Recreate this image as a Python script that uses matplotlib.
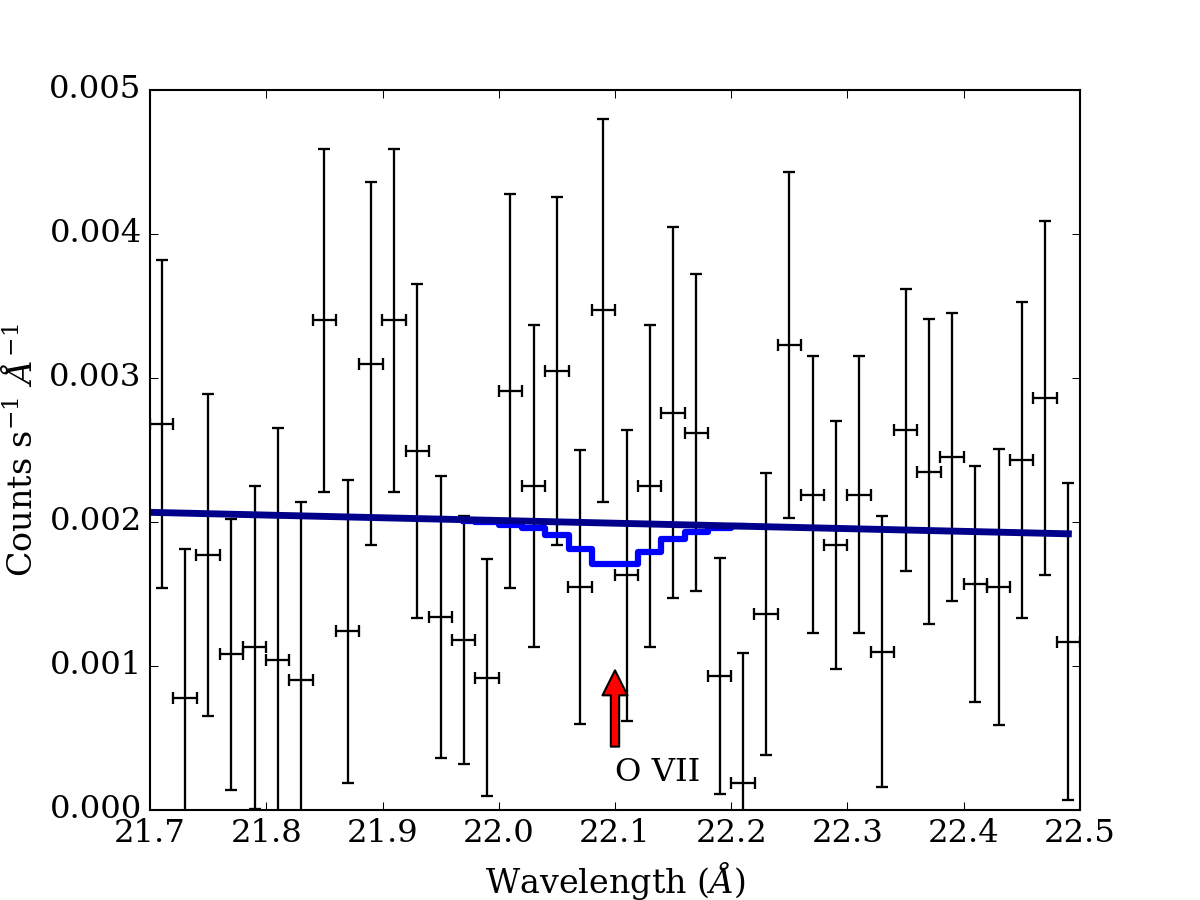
import matplotlib
matplotlib.use("Agg")
import matplotlib.pyplot as plt
from matplotlib.ticker import FormatStrFormatter, MultipleLocator

plt.style.use("classic")
plt.rcParams["font.family"] = ["DejaVu Serif"]
plt.rcParams["mathtext.fontset"] = "dejavuserif"
plt.rcParams["font.size"] = 15.5

# binned spectrum
wave = [21.71, 21.73, 21.75, 21.77, 21.79, 21.81, 21.83, 21.85, 21.87, 21.89,
        21.91, 21.93, 21.95, 21.97, 21.99, 22.01, 22.03, 22.05, 22.07, 22.09,
        22.11, 22.13, 22.15, 22.17, 22.19, 22.21, 22.23, 22.25, 22.27, 22.29,
        22.31, 22.33, 22.35, 22.37, 22.39, 22.41, 22.43, 22.45, 22.47, 22.49]
counts = [0.00268, 0.00078, 0.00177, 0.00108, 0.00113, 0.00104, 0.00090, 0.00340, 0.00124, 0.00310,
          0.00340, 0.00249, 0.00134, 0.00118, 0.00092, 0.00291, 0.00225, 0.00305, 0.00155, 0.00347,
          0.00163, 0.00225, 0.00276, 0.00262, 0.00093, 0.00019, 0.00136, 0.00323, 0.00219, 0.00184,
          0.00219, 0.00110, 0.00264, 0.00235, 0.00245, 0.00157, 0.00155, 0.00243, 0.00286, 0.00117]
count_err = [0.00114, 0.00103, 0.00112, 0.00094, 0.00112, 0.00161, 0.00124, 0.00119, 0.00105, 0.00126,
             0.00119, 0.00116, 0.00098, 0.00086, 0.00082, 0.00137, 0.00112, 0.00121, 0.00095, 0.00133,
             0.00101, 0.00112, 0.00129, 0.00110, 0.00082, 0.00090, 0.00098, 0.00120, 0.00096, 0.00086,
             0.00096, 0.00094, 0.00098, 0.00106, 0.00100, 0.00082, 0.00096, 0.00110, 0.00123, 0.00110]
bin_halfwidth = 0.01

# continuum model (straight line)
cont_wave = [21.69, 22.49]
cont_flux = [0.002069, 0.001918]

# absorption line model around O VII
line_wave = [21.97, 21.99, 22.01, 22.03, 22.05, 22.07, 22.09, 22.11, 22.13, 22.15, 22.17, 22.19, 22.21]
line_flux = [0.00201, 0.00200, 0.00198, 0.00196, 0.00191, 0.00181, 0.00171, 0.00171, 0.00179,
             0.00188, 0.00193, 0.00196, 0.00197]

fig = plt.figure(figsize=(8, 6), dpi=150)
ax = fig.add_subplot(111)

ax.errorbar(wave, counts, yerr=count_err, xerr=bin_halfwidth, fmt="none",
            ecolor="black", elinewidth=1.1, capsize=3, capthick=1.1)
ax.step(line_wave, line_flux, where="mid", color="blue", lw=3)
ax.plot(cont_wave, cont_flux, color="#00008B", lw=3.3)

ax.annotate("", xy=(22.10, 0.00097), xytext=(22.10, 0.00044),
            arrowprops=dict(facecolor="red", edgecolor="black", width=4,
                            headwidth=12, headlength=12, shrink=0))
ax.text(22.10, 0.0002, "O VII", ha="left", va="baseline")

ax.set_xlim(21.7, 22.5)
ax.set_ylim(0, 0.005)
ax.xaxis.set_major_locator(MultipleLocator(0.1))
ax.yaxis.set_major_locator(MultipleLocator(0.001))
ax.xaxis.set_major_formatter(FormatStrFormatter("%.1f"))
ax.yaxis.set_major_formatter(FormatStrFormatter("%.3f"))
ax.set_xlabel(r"Wavelength ($\AA$)", fontsize=16)
ax.set_ylabel(r"Counts s$^{-1}$ $\AA^{-1}$", fontsize=16)

fig.savefig("out.png", dpi=150)
